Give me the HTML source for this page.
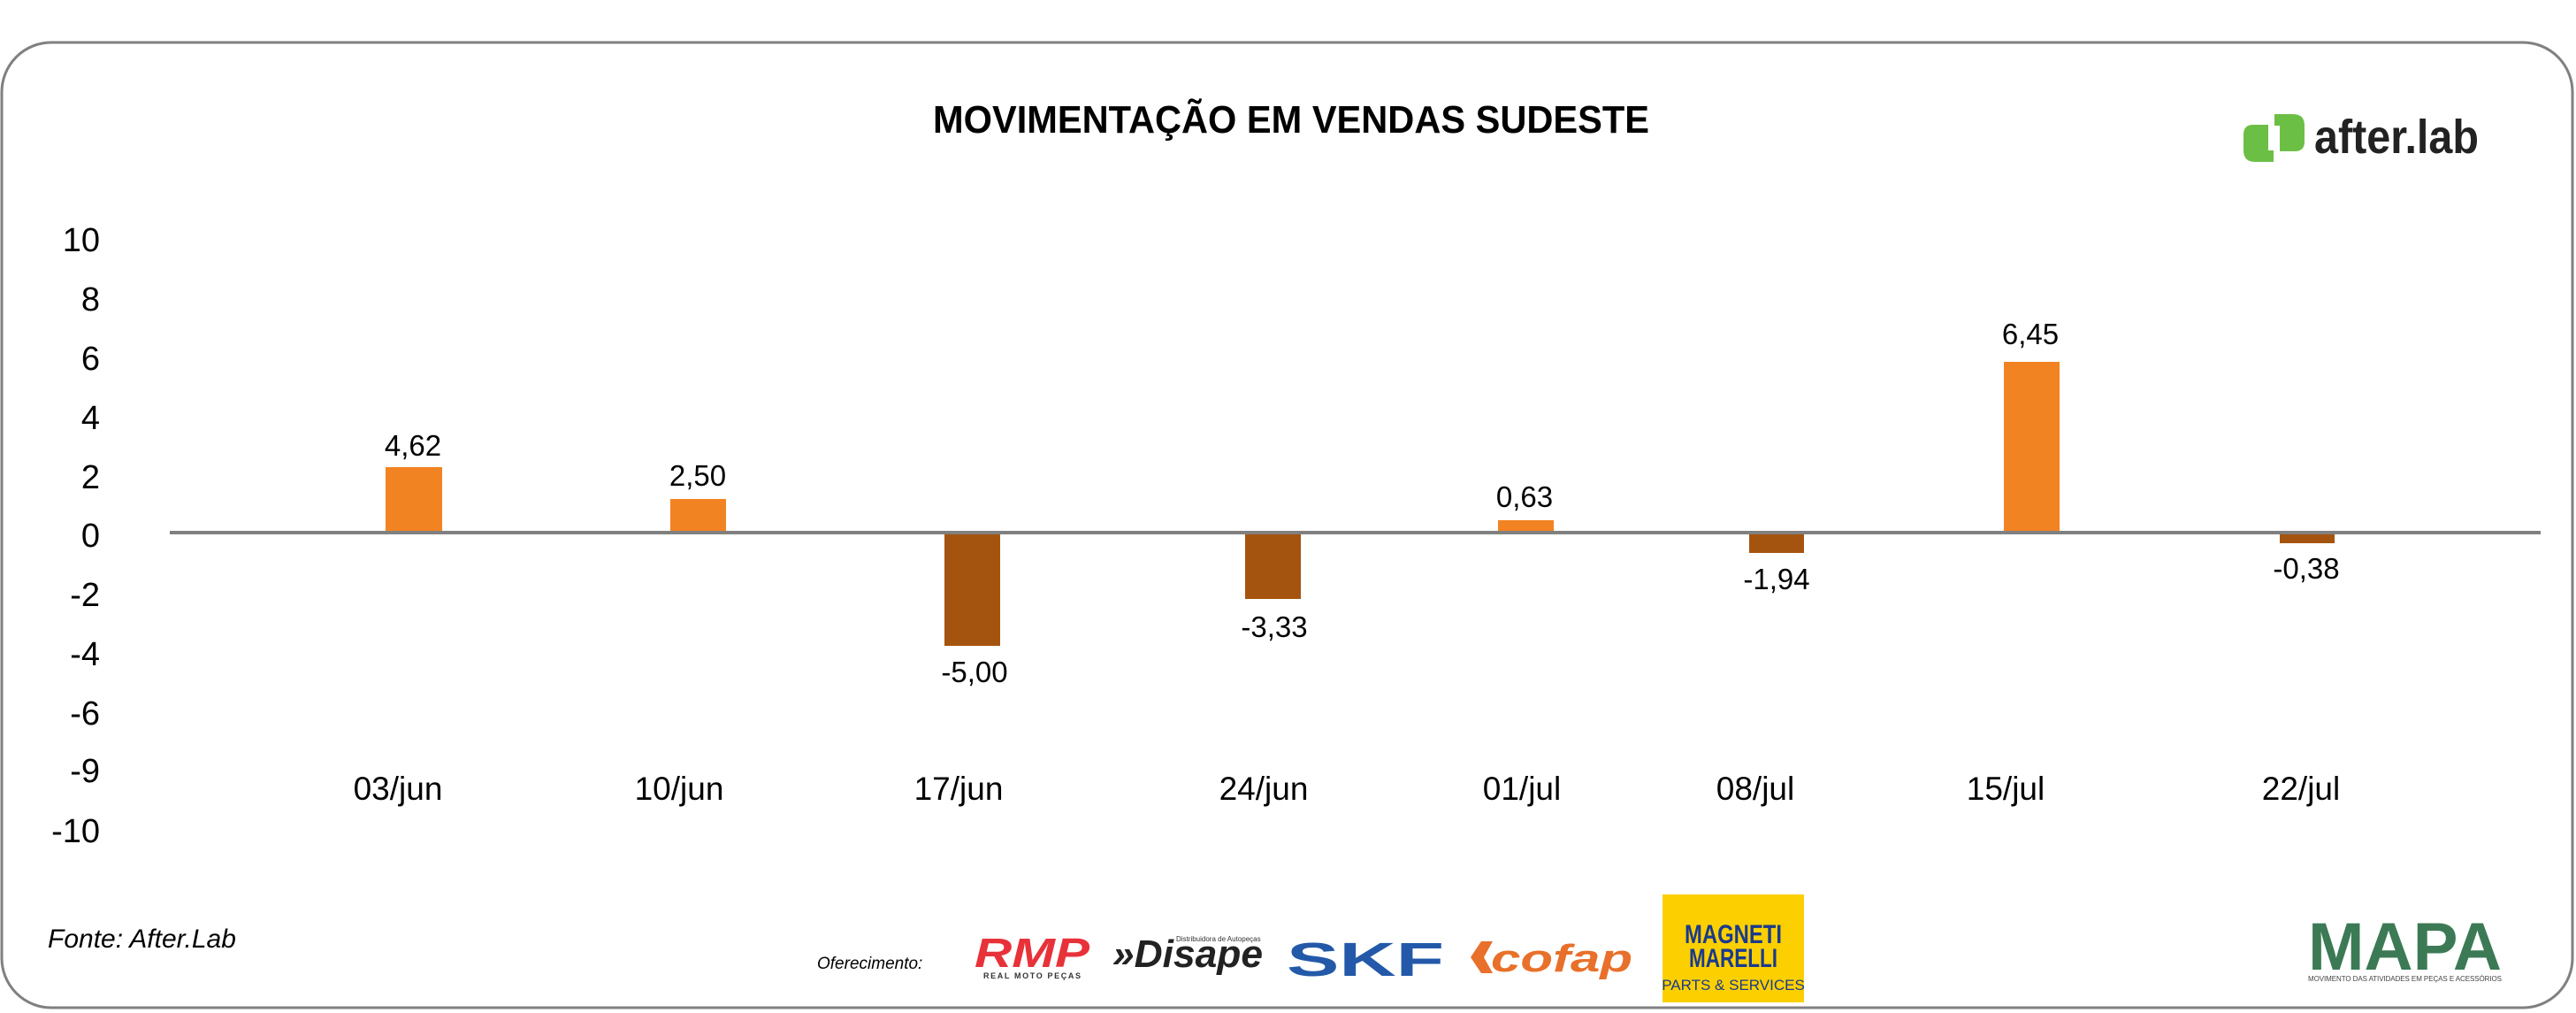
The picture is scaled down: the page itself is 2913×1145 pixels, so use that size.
<!DOCTYPE html>
<html><head><meta charset="utf-8"><style>
html,body{margin:0;padding:0;background:#fff;}
svg{display:block;}
text{font-family:"Liberation Sans",sans-serif;}
</style></head><body>
<svg width="2913" height="1145" viewBox="0 0 2913 1145" xmlns="http://www.w3.org/2000/svg">
<rect x="2" y="48" width="2907" height="1091" rx="56" ry="56" fill="#fff" stroke="#808080" stroke-width="3"/>
<text x="1055" y="150" font-size="44" font-weight="bold" fill="#000" textLength="810" lengthAdjust="spacingAndGlyphs">MOVIMENTAÇÃO EM VENDAS SUDESTE</text>
<!-- after.lab logo -->
<path d="M2537 152 Q2537 141 2548 141 L2565 141 L2565 170 L2571 170 L2571 183 L2550 183 Q2537 183 2537 170 Z" fill="#6cbf45"/>
<path d="M2572 129 L2593 129 Q2606 129 2606 142 L2606 160 Q2606 171 2595 171 L2578 171 L2578 142 L2572 142 Z" fill="#6cbf45"/>
<text x="2617" y="173" font-size="54" font-weight="bold" fill="#222" textLength="186" lengthAdjust="spacingAndGlyphs">after.lab</text>
<!-- y ticks -->
<g font-size="38" fill="#000" text-anchor="end">
<text x="113" y="284">10</text><text x="113" y="351">8</text><text x="113" y="418">6</text>
<text x="113" y="485">4</text><text x="113" y="552">2</text><text x="113" y="618">0</text>
<text x="113" y="685">-2</text><text x="113" y="752">-4</text><text x="113" y="819">-6</text>
<text x="113" y="884">-9</text><text x="113" y="952">-10</text>
</g>
<!-- bars -->
<rect x="436" y="528" width="64" height="74" fill="#f28322"/>
<rect x="758" y="564" width="63" height="38" fill="#f28322"/>
<rect x="1068" y="602" width="63" height="128" fill="#a5540f"/>
<rect x="1408" y="602" width="63" height="75" fill="#a5540f"/>
<rect x="1694" y="588" width="63" height="14" fill="#f28322"/>
<rect x="1978" y="602" width="62" height="23" fill="#a5540f"/>
<rect x="2266" y="409" width="63" height="193" fill="#f28322"/>
<rect x="2578" y="602" width="62" height="12" fill="#a5540f"/>
<rect x="192" y="600" width="2681" height="4" fill="#808080"/>
<!-- value labels -->
<g font-size="33" fill="#000" text-anchor="middle">
<text x="467" y="515">4,62</text><text x="789" y="549">2,50</text>
<text x="1102" y="771">-5,00</text><text x="1441" y="720">-3,33</text>
<text x="1724" y="573">0,63</text><text x="2009" y="666">-1,94</text>
<text x="2296" y="389">6,45</text><text x="2608" y="654">-0,38</text>
</g>
<g font-size="37" fill="#000" text-anchor="middle">
<text x="450" y="904">03/jun</text><text x="768" y="904">10/jun</text>
<text x="1084" y="904">17/jun</text><text x="1429" y="904">24/jun</text>
<text x="1721" y="904">01/jul</text><text x="1985" y="904">08/jul</text>
<text x="2268" y="904">15/jul</text><text x="2602" y="904">22/jul</text>
</g>
<text x="54" y="1071" font-size="30" font-style="italic" fill="#000">Fonte: After.Lab</text>
<text x="924" y="1095" font-size="19" font-style="italic" fill="#000">Oferecimento:</text>
<!-- sponsor logos -->
<text x="1102" y="1093" font-size="46" font-weight="bold" font-style="italic" fill="#e8323a" textLength="130" lengthAdjust="spacingAndGlyphs">RMP</text>
<text x="1112" y="1106" font-size="9" font-weight="bold" fill="#333" textLength="110" lengthAdjust="spacing">REAL MOTO PEÇAS</text>
<text x="1258" y="1093" font-size="44" font-weight="bold" font-style="italic" fill="#222" textLength="170" lengthAdjust="spacingAndGlyphs">»Disape</text>
<text x="1330" y="1064" font-size="8" fill="#333">Distribuidora de Autopeças</text>
<text x="1455" y="1103" font-size="54" font-weight="bold" fill="#2359a8" textLength="178" lengthAdjust="spacingAndGlyphs">SKF</text>
<text x="1686" y="1098" font-size="44" font-weight="bold" font-style="italic" fill="#e8702a" textLength="160" lengthAdjust="spacingAndGlyphs">cofap</text>
<path d="M1663 1082 L1675 1064 L1688 1064 L1678 1082 L1688 1100 L1675 1100 Z" fill="#e8702a"/>
<rect x="1880" y="1011" width="160" height="122" fill="#fcd000"/>
<text x="1960" y="1066" font-size="30" font-weight="bold" fill="#1a3a8c" text-anchor="middle" textLength="110" lengthAdjust="spacingAndGlyphs">MAGNETI</text>
<text x="1960" y="1093" font-size="30" font-weight="bold" fill="#1a3a8c" text-anchor="middle" textLength="100" lengthAdjust="spacingAndGlyphs">MARELLI</text>
<text x="1960" y="1119" font-size="17" fill="#1a3a8c" text-anchor="middle">PARTS &amp; SERVICES</text>
<text x="2610" y="1096" font-size="76" font-weight="bold" fill="#3c7a55" textLength="219" lengthAdjust="spacingAndGlyphs">MAPA</text>
<text x="2610" y="1109" font-size="8" fill="#444" textLength="219" lengthAdjust="spacing">MOVIMENTO DAS ATIVIDADES EM PEÇAS E ACESSÓRIOS</text>
</svg>
</body></html>
